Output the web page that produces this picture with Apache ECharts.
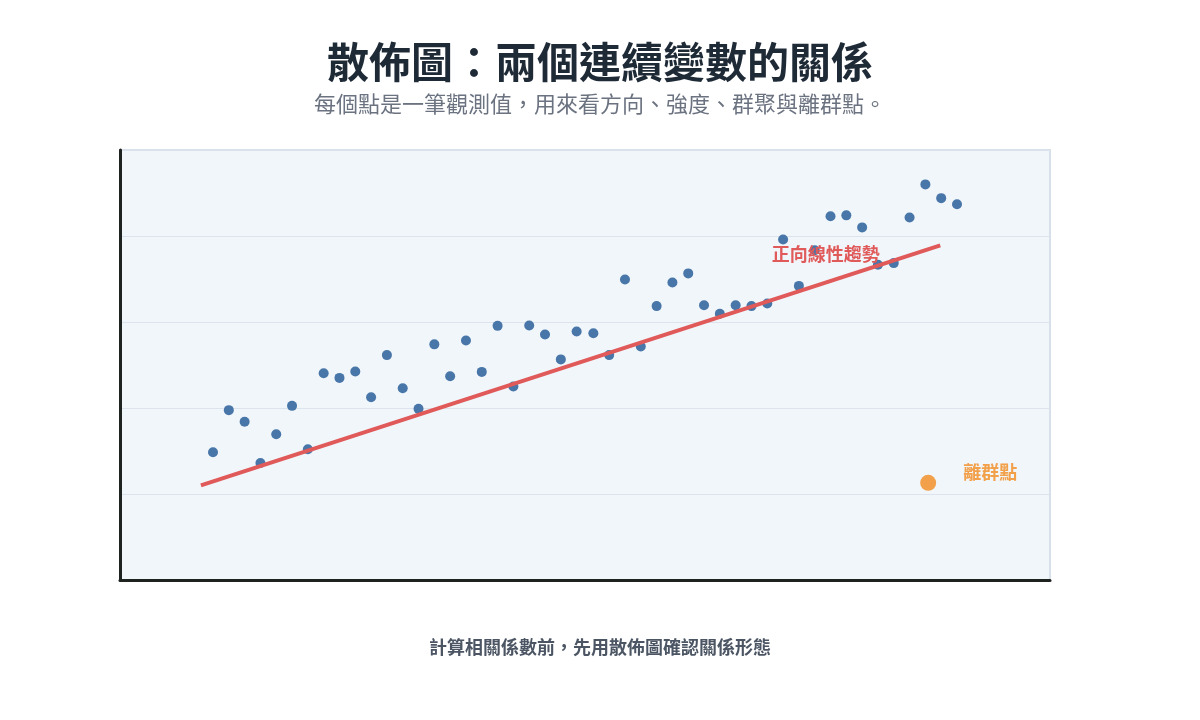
<!DOCTYPE html>
<html>
<head>
<meta charset="utf-8">
<style>
  html, body { margin: 0; padding: 0; background: #ffffff; }
  #chart { width: 1200px; height: 720px; }
</style>
<script src="https://cdn.jsdelivr.net/npm/echarts@6/dist/echarts.min.js"></script>
</head>
<body>
<div id="chart"></div>
<script>
const xValues = [10.0, 11.7, 13.4, 15.1, 16.8, 18.5, 20.2, 21.9, 23.6, 25.3, 27.0, 28.7,
  30.4, 32.1, 33.8, 35.5, 37.2, 38.9, 40.6, 42.3, 44.0, 45.7, 47.4, 49.1,
  50.9, 52.6, 54.3, 56.0, 57.7, 59.4, 61.1, 62.8, 64.5, 66.2, 67.9, 69.6,
  71.3, 73.0, 74.7, 76.4, 78.1, 79.8, 81.5, 83.2, 84.9, 86.6, 88.3, 90.0];
const yValues = [29.7, 39.5, 36.8, 27.2, 33.9, 40.5, 30.4, 48.1, 47.0, 48.5, 42.5, 52.3,
  44.6, 39.8, 54.8, 47.4, 55.7, 48.4, 59.1, 45.0, 59.2, 57.1, 51.3, 57.8,
  57.4, 52.3, 69.9, 54.3, 63.7, 69.2, 71.3, 63.9, 61.9, 63.9, 63.7, 64.3,
  79.2, 68.4, 76.7, 84.6, 84.8, 82.0, 73.3, 73.7, 84.3, 92.0, 88.8, 87.4];
const outlierPoint = [86.9, 22.6];
const trendLine = [[8.7, 22.0], [88.2, 77.8]];
const trendLabelPos = [75.9, 75.8];
const titleText = '散佈圖：兩個連續變數的關係';
const subtitleText = '每個點是一筆觀測值，用來看方向、強度、群聚與離群點。';
const footerText = '計算相關係數前，先用散佈圖確認關係形態';
const trendLabelText = '正向線性趨勢';
const outlierLabelText = '離群點';

const points = xValues.map((x, i) => [x, yValues[i]]);
const font = '"Noto Sans CJK TC", "Noto Sans", sans-serif';

const chart = echarts.init(document.getElementById('chart'));
chart.setOption({
  animation: false,
  backgroundColor: '#ffffff',
  graphic: [
    { type: 'text', x: 600, y: 62, style: { text: titleText, fontSize: 42, fontWeight: 'bold', fontFamily: font, fill: '#1f2a37', textAlign: 'center', textVerticalAlign: 'middle' } },
    { type: 'text', x: 600, y: 104, style: { text: subtitleText, fontSize: 22, fontFamily: font, fill: '#6b7280', textAlign: 'center', textVerticalAlign: 'middle' } },
    { type: 'text', x: 600, y: 647, style: { text: footerText, fontSize: 18, fontWeight: 'bold', fontFamily: font, fill: '#4b5563', textAlign: 'center', textVerticalAlign: 'middle' } }
  ],
  grid: {
    left: 120, right: 150, top: 150, bottom: 140,
    show: true, backgroundColor: '#f1f6fb', borderColor: '#d8e0ea', borderWidth: 2
  },
  xAxis: {
    type: 'value', min: 0, max: 100,
    axisLine: { show: true, onZero: false, lineStyle: { color: '#1f231f', width: 3 } },
    axisTick: { show: false }, axisLabel: { show: false }, splitLine: { show: false }
  },
  yAxis: {
    type: 'value', min: 0, max: 100, interval: 20,
    axisLine: { show: true, onZero: false, lineStyle: { color: '#1f231f', width: 3 } },
    axisTick: { show: false }, axisLabel: { show: false },
    splitLine: { show: true, lineStyle: { color: '#dce3ec', width: 1 } }
  },
  series: [
    {
      type: 'scatter', data: points, symbolSize: 10, z: 2,
      itemStyle: { color: '#4876a8', opacity: 1 }
    },
    {
      type: 'line', data: trendLine, symbol: 'none', z: 3,
      lineStyle: { color: '#e05a5a', width: 4 }
    },
    {
      type: 'scatter', data: [outlierPoint], symbolSize: 16, z: 4,
      itemStyle: { color: '#f2a04a', opacity: 1 },
      label: { show: true, formatter: outlierLabelText, position: 'right', distance: 27, offset: [0, -11],
        color: '#f2a04a', fontSize: 18, fontWeight: 'bold', fontFamily: font, opacity: 1 }
    },
    {
      type: 'scatter', data: [trendLabelPos], symbolSize: 0, z: 5, silent: true,
      itemStyle: { opacity: 1 },
      label: { show: true, formatter: trendLabelText, position: 'inside',
        color: '#e05a5a', fontSize: 18, fontWeight: 'bold', fontFamily: font, opacity: 1 }
    }
  ]
});
</script>
</body>
</html>
